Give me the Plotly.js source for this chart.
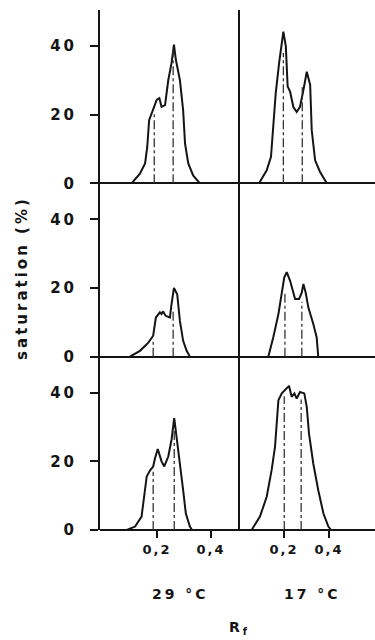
<!DOCTYPE html>
<html><head><meta charset="utf-8">
<script src="https://cdn.plot.ly/plotly-3.0.1.min.js"></script>
<style>
html,body{margin:0;padding:0;background:#fff;}
#chart{width:375px;height:640px;}
.ytick text,.y2tick text,.y3tick text{letter-spacing:3px;}
.xtick text,.x2tick text{letter-spacing:2px;}
.annotation-text{letter-spacing:3px;}
</style></head><body><div id="chart"></div>
<script>
// Rf values (x) and saturation (%) (y)
var rf29_top = [0.106,0.137,0.156,0.164,0.171,0.186,0.199,0.209,0.217,0.230,0.242,0.254,0.263,0.270,0.285,0.297,0.304,0.316,0.334,0.359];
var sat29_top = [0,2.8,5.8,10.6,18.4,21.3,24.3,24.8,22.3,22.8,30.1,35,40.4,36,30.1,21.3,11.6,5.8,2.3,0];
var rf17_top = [0.089,0.123,0.142,0.152,0.163,0.178,0.190,0.197,0.208,0.216,0.227,0.241,0.256,0.271,0.286,0.301,0.316,0.323,0.338,0.360,0.390];
var sat17_top = [0,3.8,7.7,16.5,26.2,35,40.8,44.2,39.9,28.2,26.7,22.3,20.8,22.3,27.2,32.5,28.7,15.5,6.7,3.3,0];

var rf29_mid = [0.100,0.137,0.168,0.186,0.196,0.205,0.211,0.217,0.223,0.232,0.248,0.254,0.263,0.275,0.285,0.297,0.310,0.322];
var sat29_mid = [0,1.7,4.1,6.1,11.4,12.4,12.9,12.4,13.2,11.9,11.4,15.3,20,18.2,10.4,4.6,1.7,0];
var rf17_mid = [0.130,0.152,0.175,0.190,0.201,0.212,0.227,0.249,0.267,0.279,0.286,0.296,0.308,0.330,0.345,0.352];
var sat17_mid = [0,5.6,12.4,19.2,23.1,24.6,22.1,16.8,16.8,18.7,21.2,18.7,14.3,9.5,5.6,0];

var rf29_bot = [0.088,0.119,0.143,0.152,0.162,0.174,0.186,0.193,0.203,0.217,0.227,0.242,0.254,0.264,0.273,0.285,0.297,0.307,0.322,0.330];
var sat29_bot = [0,1,3.9,9.7,15.6,17.3,18.5,21,23.6,20,18.5,21.4,26.3,32.6,27.2,19.4,11.6,4.8,1,0];
var rf17_bot = [0.056,0.093,0.123,0.145,0.160,0.170,0.175,0.190,0.208,0.222,0.234,0.246,0.256,0.271,0.290,0.301,0.311,0.330,0.352,0.375,0.397,0.409];
var sat17_bot = [0,3.9,9.7,17.5,24.3,32,37.8,39.8,41.2,42,38.8,39.8,38.3,40.2,39.8,35.8,28,19.3,11.6,4.8,1,0];

// dash-dot marker lines: positions and heights
var mark29_top_x = [0.19,0.26], mark29_top_h = [21,39];
var mark17_top_x = [0.197,0.281], mark17_top_h = [38,28];
var mark29_mid_x = [0.186,0.26], mark29_mid_h = [5,14];
var mark17_mid_x = [0.204,0.279], mark17_mid_h = [19,16];
var mark29_bot_x = [0.186,0.264], mark29_bot_h = [17,30];
var mark17_bot_x = [0.201,0.276], mark17_bot_h = [39,38];

var yTicks = [0,20,40];
var xTicks = [0.2,0.4];
var xTickText = ['0,2','0,4'];
var colLabels = ['29 °C','17 °C'];

var INK = '#141414';
var FONT = 'DejaVu Sans';

var traces = [];
function curve(x, y, xa, ya){
  traces.push({type:'scatter', mode:'lines', x:x, y:y, xaxis:xa, yaxis:ya,
    line:{color:INK, width:2}, hoverinfo:'skip', showlegend:false});
}
function marks(xs, hs, xa, ya){
  for (var i=0;i<xs.length;i++){
    traces.push({type:'scatter', mode:'lines', x:[xs[i],xs[i]], y:[0,hs[i]], xaxis:xa, yaxis:ya,
      line:{color:'#333', width:1.3, dash:'dashdot'}, hoverinfo:'skip', showlegend:false});
  }
}
curve(rf29_top, sat29_top, 'x', 'y');   marks(mark29_top_x, mark29_top_h, 'x', 'y');
curve(rf17_top, sat17_top, 'x2', 'y');  marks(mark17_top_x, mark17_top_h, 'x2', 'y');
curve(rf29_mid, sat29_mid, 'x', 'y2');  marks(mark29_mid_x, mark29_mid_h, 'x', 'y2');
curve(rf17_mid, sat17_mid, 'x2', 'y2'); marks(mark17_mid_x, mark17_mid_h, 'x2', 'y2');
curve(rf29_bot, sat29_bot, 'x', 'y3');  marks(mark29_bot_x, mark29_bot_h, 'x', 'y3');
curve(rf17_bot, sat17_bot, 'x2', 'y3'); marks(mark17_bot_x, mark17_bot_h, 'x2', 'y3');

function yax(dom){
  return {domain:dom, range:[0,50.5], anchor:'x', showgrid:false,
    showline:true, linewidth:2, linecolor:INK,
    zeroline:true, zerolinewidth:2, zerolinecolor:INK,
    ticks:'outside', ticklen:8, tickwidth:2, tickcolor:INK,
    tickvals:yTicks, ticklabelstandoff:10,
    tickfont:{family:FONT, size:15, color:INK, weight:'bold'}, fixedrange:true};
}
function xax(dom, rng, zl){
  return {domain:dom, range:rng, anchor:'y3', showgrid:false, showline:false,
    zeroline:zl, zerolinewidth:1.6, zerolinecolor:INK,
    ticks:'outside', ticklen:7, tickwidth:2, tickcolor:INK,
    tickvals:xTicks, ticktext:xTickText,
    tickfont:{family:FONT, size:13, color:INK, weight:'bold'}, fixedrange:true};
}

var layout = {
  width:375, height:640,
  margin:{l:100, r:0, t:10, b:110},
  paper_bgcolor:'#fff', plot_bgcolor:'#fff',
  showlegend:false,
  xaxis: xax([0,0.5055], [-0.011,0.504], false),
  xaxis2: xax([0.5055,1], [0,0.604], true),
  yaxis: yax([2/3,1]),
  yaxis2: yax([1/3,2/3]),
  yaxis3: yax([0,1/3]),
  annotations:[
    {text:colLabels[0], xref:'paper', yref:'paper', x:0.2945, y:-0.123, showarrow:false,
     xanchor:'center', yanchor:'middle', font:{family:FONT, size:14, color:INK, weight:'bold'}},
    {text:colLabels[1], xref:'paper', yref:'paper', x:0.771, y:-0.123, showarrow:false,
     xanchor:'center', yanchor:'middle', font:{family:FONT, size:14, color:INK, weight:'bold'}},
    {text:'R<sub>f</sub>', xref:'paper', yref:'paper', x:0.509, y:-0.188, showarrow:false,
     xanchor:'center', yanchor:'middle', font:{family:FONT, size:14, color:INK, weight:'bold'}},
    {text:'saturation (%)', xref:'paper', yref:'paper', x:-0.284, y:0.4846, showarrow:false,
     textangle:-90, xanchor:'center', yanchor:'middle', font:{family:FONT, size:15, color:INK, weight:'bold'}}
  ]
};

Plotly.newPlot('chart', traces, layout, {staticPlot:true, displayModeBar:false});
</script>
</body></html>
